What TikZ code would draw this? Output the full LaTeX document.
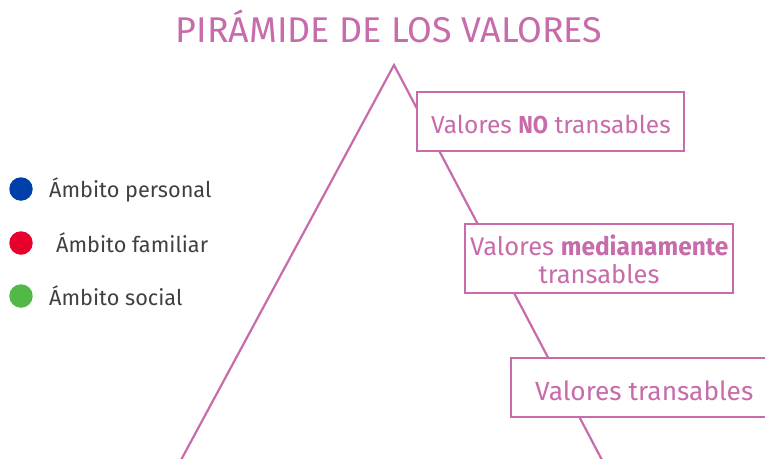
\documentclass[tikz,border=0pt]{standalone}
\usepackage{fontspec}
\setmainfont{Fira Sans}
\newfontfamily\boxfont{Fira Sans}
\newfontfamily\boldA[FakeStretch=0.9]{Fira Sans}
\newfontfamily\boldB[FakeStretch=0.96]{Fira Sans}
\newfontfamily\legfont{Fira Sans}
\newfontfamily\titlefont{Fira Sans}
\definecolor{pink}{HTML}{C86BAA}
\definecolor{legtext}{HTML}{404040}
\definecolor{cblue}{HTML}{0040A8}
\definecolor{cred}{HTML}{E8002D}
\definecolor{cgreen}{HTML}{52B848}
\begin{document}
\begin{tikzpicture}[x=1pt,y=-1pt,
  valbox/.style={draw=pink, line width=1.5pt, fill=white},
  valtext/.style={text=pink, inner sep=0pt, anchor=base west},
  legdot/.style={circle, fill=#1, minimum size=23.5pt, inner sep=0pt},
  legtext/.style={text=legtext, font=\legfont\fontsize{21.7}{24}\selectfont, inner sep=0pt, anchor=base west}]
\useasboundingbox (0,0) rectangle (765,458);
% title
\node[text=pink, font=\titlefont\fontsize{35.8}{38}\selectfont, inner sep=0pt, anchor=base] (title) at (389,42) {PIRÁMIDE DE LOS VALORES};
% pyramid
\coordinate (apex) at (394,65);
\coordinate (bl) at (181,460);
\coordinate (br) at (602,460);
\draw[pink, line width=2.2pt, line join=miter] (bl) -- (apex) -- (br);
% boxes
\path[valbox] (417,92) rectangle (684,151);
\path[valbox] (465,224) rectangle (733,293);
\path[valbox] (511,358) rectangle (775,417);
\node[valtext, font=\boxfont\fontsize{24.5}{26}\selectfont] (t1) at (431,133) {Valores {\boldA\bfseries NO} transables};
\node[valtext, font=\boxfont\fontsize{25.5}{27}\selectfont] (t2a) at (470,255) {Valores {\boldB\bfseries medianamente}};
\node[valtext, font=\boxfont\fontsize{25.5}{27}\selectfont, anchor=base] (t2b) at (599,283) {transables};
\node[valtext, font=\boxfont\fontsize{26.3}{28}\selectfont] (t3) at (535,400) {Valores transables};
% legend
\node[legdot=cblue] (d1) at (21,189) {};
\node[legdot=cred] (d2) at (21,243) {};
\node[legdot=cgreen] (d3) at (21,296) {};
\node[legtext] (l1) at (49,197) {Ámbito personal};
\node[legtext] (l2) at (56,252) {Ámbito familiar};
\node[legtext] (l3) at (49,305) {Ámbito social};
\end{tikzpicture}
\end{document}
